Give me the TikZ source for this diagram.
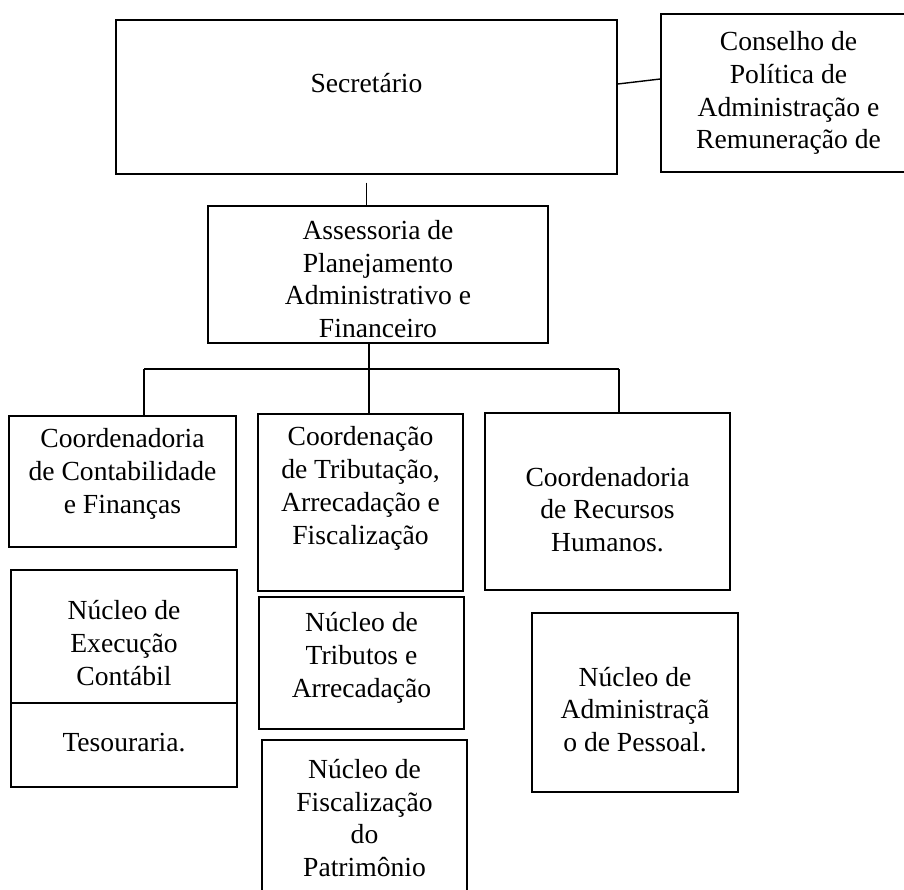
\documentclass[tikz,border=0pt]{standalone}
\usepackage{fontspec}
\setmainfont{Liberation Serif}
\usetikzlibrary{fit}

\begin{document}
\begin{tikzpicture}[x=0.5pt,y=-0.5pt,
  box/.style={draw,line width=0.7pt,inner sep=0pt},
  txt/.style={align=center,font=\fontsize{13.8}{16.4}\selectfont},
  link/.style={line width=0.7pt}]
  \useasboundingbox (0,0) rectangle (904,889);
  \node[box,fit={(116,20) (617,174)},label={[txt,yshift=7pt]center:Secretário}] (sec) {};
  \node[box,fit={(661,14) (916,172)},label={[txt]center:{Conselho de\\Política de\\Administração e\\Remuneração de}}] (con) {};
  \node[box,fit={(208,206) (548,343)},label={[txt,yshift=-2.25pt]center:{Assessoria de\\Planejamento\\Administrativo e\\Financeiro}}] (ass) {};
  \node[box,fit={(9,416) (236,547)},label={[txt,yshift=3.75pt]center:{Coordenadoria\\de Contabilidade\\e Finanças}}] (cc) {};
  \node[box,fit={(258,414) (463,591)},label={[txt,yshift=7pt]center:{Coordenação\\de Tributação,\\Arrecadação e\\Fiscalização}}] (ct) {};
  \node[box,fit={(485,413) (730,590)},label={[txt,yshift=-4pt]center:{Coordenadoria\\de Recursos\\Humanos.}}] (crh) {};
  \node[box,fit={(11,570) (237,703)},label={[txt,yshift=-3.25pt]center:{Núcleo de\\Execução\\Contábil}}] (nec) {};
  \node[box,fit={(11,703) (237,787)},label={[txt,yshift=1pt]center:Tesouraria.}] (tes) {};
  \node[box,fit={(259,597) (464,729)},label={[txt,yshift=2.5pt]center:{Núcleo de\\Tributos e\\Arrecadação}}] (ntr) {};
  \node[box,fit={(262,740) (467,896)},label={[txt]center:{Núcleo de\\Fiscalização\\do\\Patrimônio}}] (nfp) {};
  \node[box,fit={(532,613) (738,792)},label={[txt,yshift=-3.5pt]center:{Núcleo de\\Administraçã\\o de Pessoal.}}] (nap) {};
  \coordinate (b1) at (144,369);
  \coordinate (b2) at (369,369);
  \coordinate (b3) at (619,369);
  \draw[link] ([yshift=6.5pt]sec.east) -- ([yshift=7pt]con.west);
  \draw[link] ([yshift=-4pt]sec.south) -- (sec.south |- ass.north);
  \draw[link] (ass.south -| b2) -- (b2);
  \draw[link] (b1) -- (b3);
  \draw[link] (b1) -- (b1 |- cc.north);
  \draw[link] (b2) -- (b2 |- ct.north);
  \draw[link] (b3) -- (b3 |- crh.north);
\end{tikzpicture}
\end{document}
